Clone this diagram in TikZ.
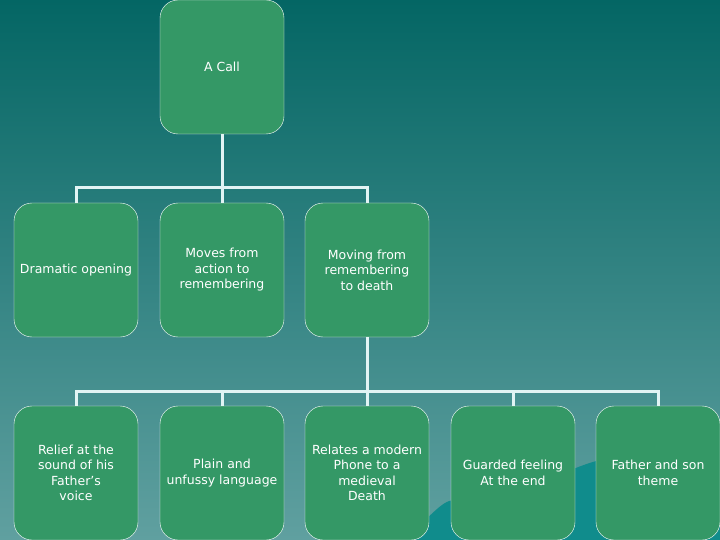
\documentclass[tikz,border=0pt]{standalone}
\usepackage{fontspec}
\setmainfont{DejaVu Sans}
\usetikzlibrary{positioning, calc, shapes}
\definecolor{BgTop}{RGB}{4,102,100}
\definecolor{BgBottom}{RGB}{96,160,160}
\definecolor{BoxGreen}{RGB}{52,152,102}
\definecolor{LinkWhite}{RGB}{226,244,244}
\definecolor{WaveTeal}{RGB}{16,140,140}
\tikzset{
  % Riquadri della gerarchia
  box/.style={draw=white,thin,fill=BoxGreen,rounded corners=18pt,
    minimum width=124pt,minimum height=134pt,inner sep=1pt,
    text=white,align=center,font=\fontsize{12.5}{15.5}\selectfont},
  % Connessioni
  link/.style={LinkWhite,line width=3pt}
}
\begin{document}
\begin{tikzpicture}[x=1pt,y=-1pt]
  \useasboundingbox (0,0) rectangle (720,540);
  \shade[top color=BgTop,bottom color=BgBottom] (0,0) rectangle (720,540);
  % onda decorativa sullo sfondo
  \fill[WaveTeal] (400,540) .. controls (430,520) and (440,500) .. (455,500)
    .. controls (520,500) and (560,470) .. (600,460)
    .. controls (650,450) and (700,455) .. (720,450) -- (720,540) -- cycle;

  \node[box] (call) at (222,67) {A Call};

  \node[box] (dram) at (76,270) {Dramatic opening};
  \node[box] (moves) at (222,270) {Moves from\\action to\\remembering};
  \node[box] (moving) at (367,270) {Moving from\\remembering\\to death};

  \node[box] (relief) at (76,473) {Relief at the\\sound of his\\Father’s\\voice};
  \node[box] (plain) at (222,473) {Plain and\\unfussy language};
  \node[box] (relates) at (367,473) {Relates a modern\\Phone to a\\medieval\\Death};
  \node[box] (guard) at (513,473) {Guarded feeling\\At the end};
  \node[box] (father) at (658,473) {Father and son\\theme};

  \coordinate (bus1) at (222,188);
  \coordinate (bus2) at (367,391);

  \draw[link] (call.south) -- (bus1) -| (dram.north);
  \draw[link] (bus1) -- (moves.north);
  \draw[link] (bus1) -| (moving.north);

  \draw[link] (moving.south) -- (bus2) -| (relief.north);
  \draw[link] (bus2) -| (plain.north);
  \draw[link] (bus2) -- (relates.north);
  \draw[link] (bus2) -| (guard.north);
  \draw[link] (bus2) -| (father.north);
\end{tikzpicture}
\end{document}
